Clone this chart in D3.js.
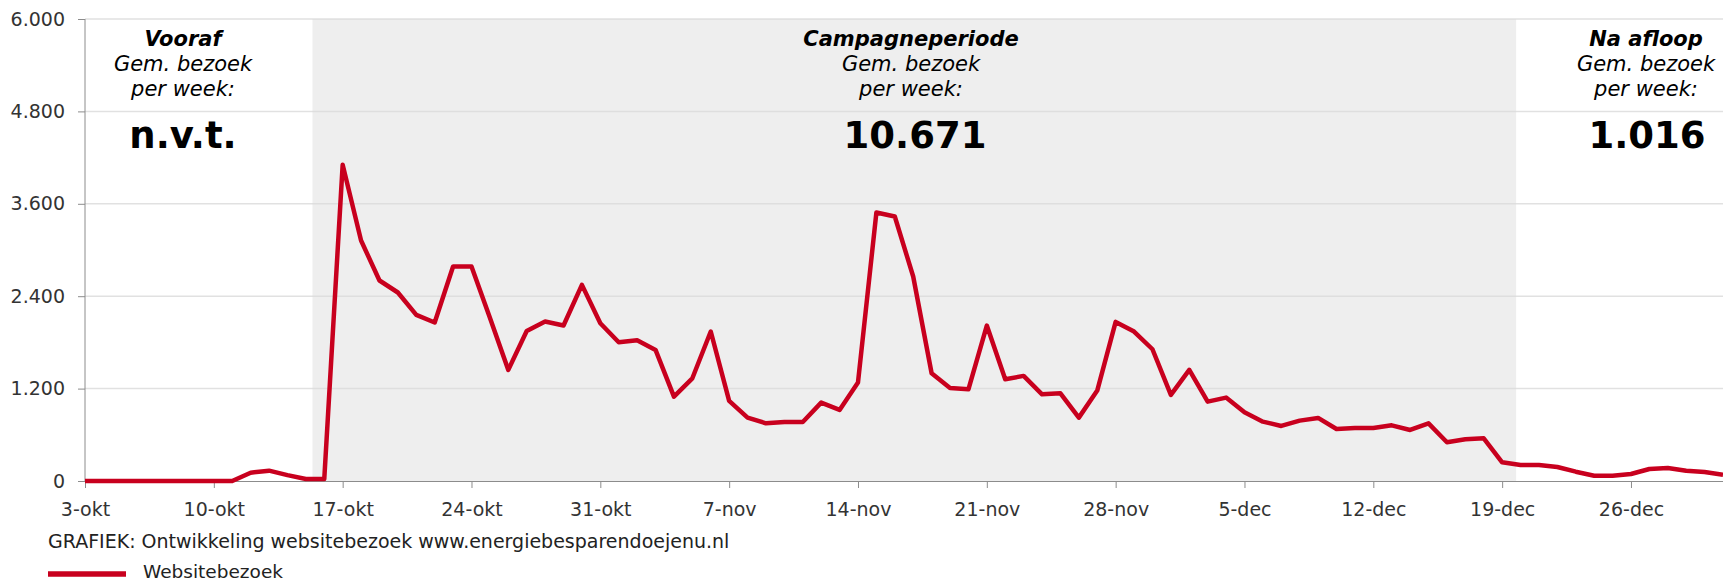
<!DOCTYPE html>
<html>
<head>
<meta charset="utf-8">
<script src="https://cdn.jsdelivr.net/npm/d3@7"></script>
<style>
  body { margin: 0; background: #fff; }
  svg text { font-family: "DejaVu Sans", Verdana, sans-serif; }
  .tick text { fill: #333; font-size: 19px; }
  .domain, .tick line { stroke: #8c8c8c; }
</style>
</head>
<body>
<div id="chart"></div>
<script>
// daily website visits, 3 okt - 31 dec
var startDate = new Date(2011, 9, 3);
var visits = [
  0, 0, 0, 0, 0, 0, 0, 0, 0, 108, 134, 76, 25, 25,
  4107, 3123, 2604, 2448, 2157, 2058, 2785, 2785, 2120, 1443, 1949, 2071, 2019, 2547,
  2049, 1802, 1828, 1702, 1096, 1334, 1941, 1040, 823, 749, 767, 767, 1018, 923,
  1278, 3487, 3435, 2656, 1399, 1209, 1191, 2019, 1321, 1365, 1126, 1139, 823, 1174,
  2066, 1941, 1711, 1118, 1443, 1031, 1083, 892, 771, 715, 784, 819, 676, 689,
  689, 723, 663, 749, 503, 541, 554, 243, 208, 208, 182, 121, 69, 69,
  91, 156, 169, 134, 117, 82
];
var yTicks = [0, 1200, 2400, 3600, 4800, 6000];
var monthNames = ["jan", "feb", "mrt", "apr", "mei", "jun", "jul", "aug", "sep", "okt", "nov", "dec"];

// campaign period (shaded)
var campaignStart = new Date(2011, 9, 15, 8, 40);
var campaignEnd = new Date(2011, 11, 19, 18, 15);

// period annotations
var periods = [
  {title: "Vooraf", value: "n.v.t."},
  {title: "Campagneperiode", value: "10.671"},
  {title: "Na afloop", value: "1.016"}
];
var periodCenters = [183, 911, 1646];
var valueCenters = [183, 915, 1647];

var title = "GRAFIEK: Ontwikkeling websitebezoek www.energiebesparendoejenu.nl";
var seriesName = "Websitebezoek";

var width = 1723, height = 582;
var margin = {top: 19, right: 0, bottom: 101, left: 85};

var data = visits.map(function(v, i) {
  return {date: d3.timeDay.offset(startDate, i), value: v};
});

var svg = d3.select("#chart").append("svg")
    .attr("width", width)
    .attr("height", height);

var x = d3.scaleTime()
    .domain(d3.extent(data, function(d) { return d.date; }))
    .range([margin.left, width - margin.right]);

var y = d3.scaleLinear()
    .domain([0, 6000])
    .range([height - margin.bottom, margin.top]);

// shaded campaign band
svg.append("rect")
    .attr("x", x(campaignStart))
    .attr("y", y(6000))
    .attr("width", x(campaignEnd) - x(campaignStart))
    .attr("height", y(0) - y(6000))
    .attr("fill", "#eeeeee");

// gridlines
svg.append("g")
  .selectAll("line")
  .data(yTicks.slice(1))
  .enter().append("line")
    .attr("x1", margin.left)
    .attr("x2", width - margin.right)
    .attr("y1", function(d) { return y(d); })
    .attr("y2", function(d) { return y(d); })
    .attr("stroke", "#d9d9d9")
    .attr("stroke-opacity", 0.8)
    .attr("stroke-width", 1.5);

// y axis
svg.append("g")
    .attr("transform", "translate(" + margin.left + ",0)")
    .call(d3.axisLeft(y)
      .tickValues(yTicks)
      .tickSize(7)
      .tickPadding(13)
      .tickFormat(function(d) { return d3.format(",")(d).replace(/,/g, "."); }))
    .call(function(g) { g.select(".domain").attr("d", "M0," + y(0) + "V" + y(6000)); });

// x axis, weekly ticks
var weekTicks = d3.timeDay.range(startDate, d3.timeDay.offset(startDate, visits.length), 7);
svg.append("g")
    .attr("transform", "translate(0," + y(0) + ")")
    .call(d3.axisBottom(x)
      .tickValues(weekTicks)
      .tickSize(7)
      .tickPadding(15)
      .tickSizeOuter(0)
      .tickFormat(function(d) { return d.getDate() + "-" + monthNames[d.getMonth()]; }));

// line
var line = d3.line()
    .x(function(d) { return x(d.date); })
    .y(function(d) { return y(d.value); });

svg.append("path")
    .datum(data)
    .attr("fill", "none")
    .attr("stroke", "#c8001e")
    .attr("stroke-width", 4.5)
    .attr("stroke-linejoin", "round")
    .attr("d", line);

// period labels
var ann = svg.append("g").selectAll("g")
    .data(periods)
  .enter().append("g")
    .attr("text-anchor", "middle")
    .attr("fill", "#000");

ann.append("text")
    .attr("x", function(d, i) { return periodCenters[i]; })
    .attr("y", 46)
    .style("font-size", "21px")
    .style("font-weight", "bold")
    .style("font-style", "italic")
    .text(function(d) { return d.title; });

ann.append("text")
    .attr("x", function(d, i) { return periodCenters[i]; })
    .attr("y", 71)
    .style("font-size", "21px")
    .style("font-style", "italic")
    .text("Gem. bezoek");

ann.append("text")
    .attr("x", function(d, i) { return periodCenters[i]; })
    .attr("y", 96)
    .style("font-size", "21px")
    .style("font-style", "italic")
    .text("per week:");

ann.append("text")
    .attr("x", function(d, i) { return valueCenters[i]; })
    .attr("y", 148)
    .style("font-size", "37px")
    .style("font-weight", "bold")
    .text(function(d) { return d.value; });

// caption
svg.append("text")
    .attr("x", 48)
    .attr("y", 548)
    .attr("fill", "#222")
    .style("font-size", "19px")
    .text(title);

// legend
svg.append("line")
    .attr("x1", 48)
    .attr("x2", 126)
    .attr("y1", 574)
    .attr("y2", 574)
    .attr("stroke", "#c8001e")
    .attr("stroke-width", 5.5);

svg.append("text")
    .attr("x", 143)
    .attr("y", 578)
    .attr("fill", "#222")
    .style("font-size", "18.5px")
    .text(seriesName);
</script>
</body>
</html>
